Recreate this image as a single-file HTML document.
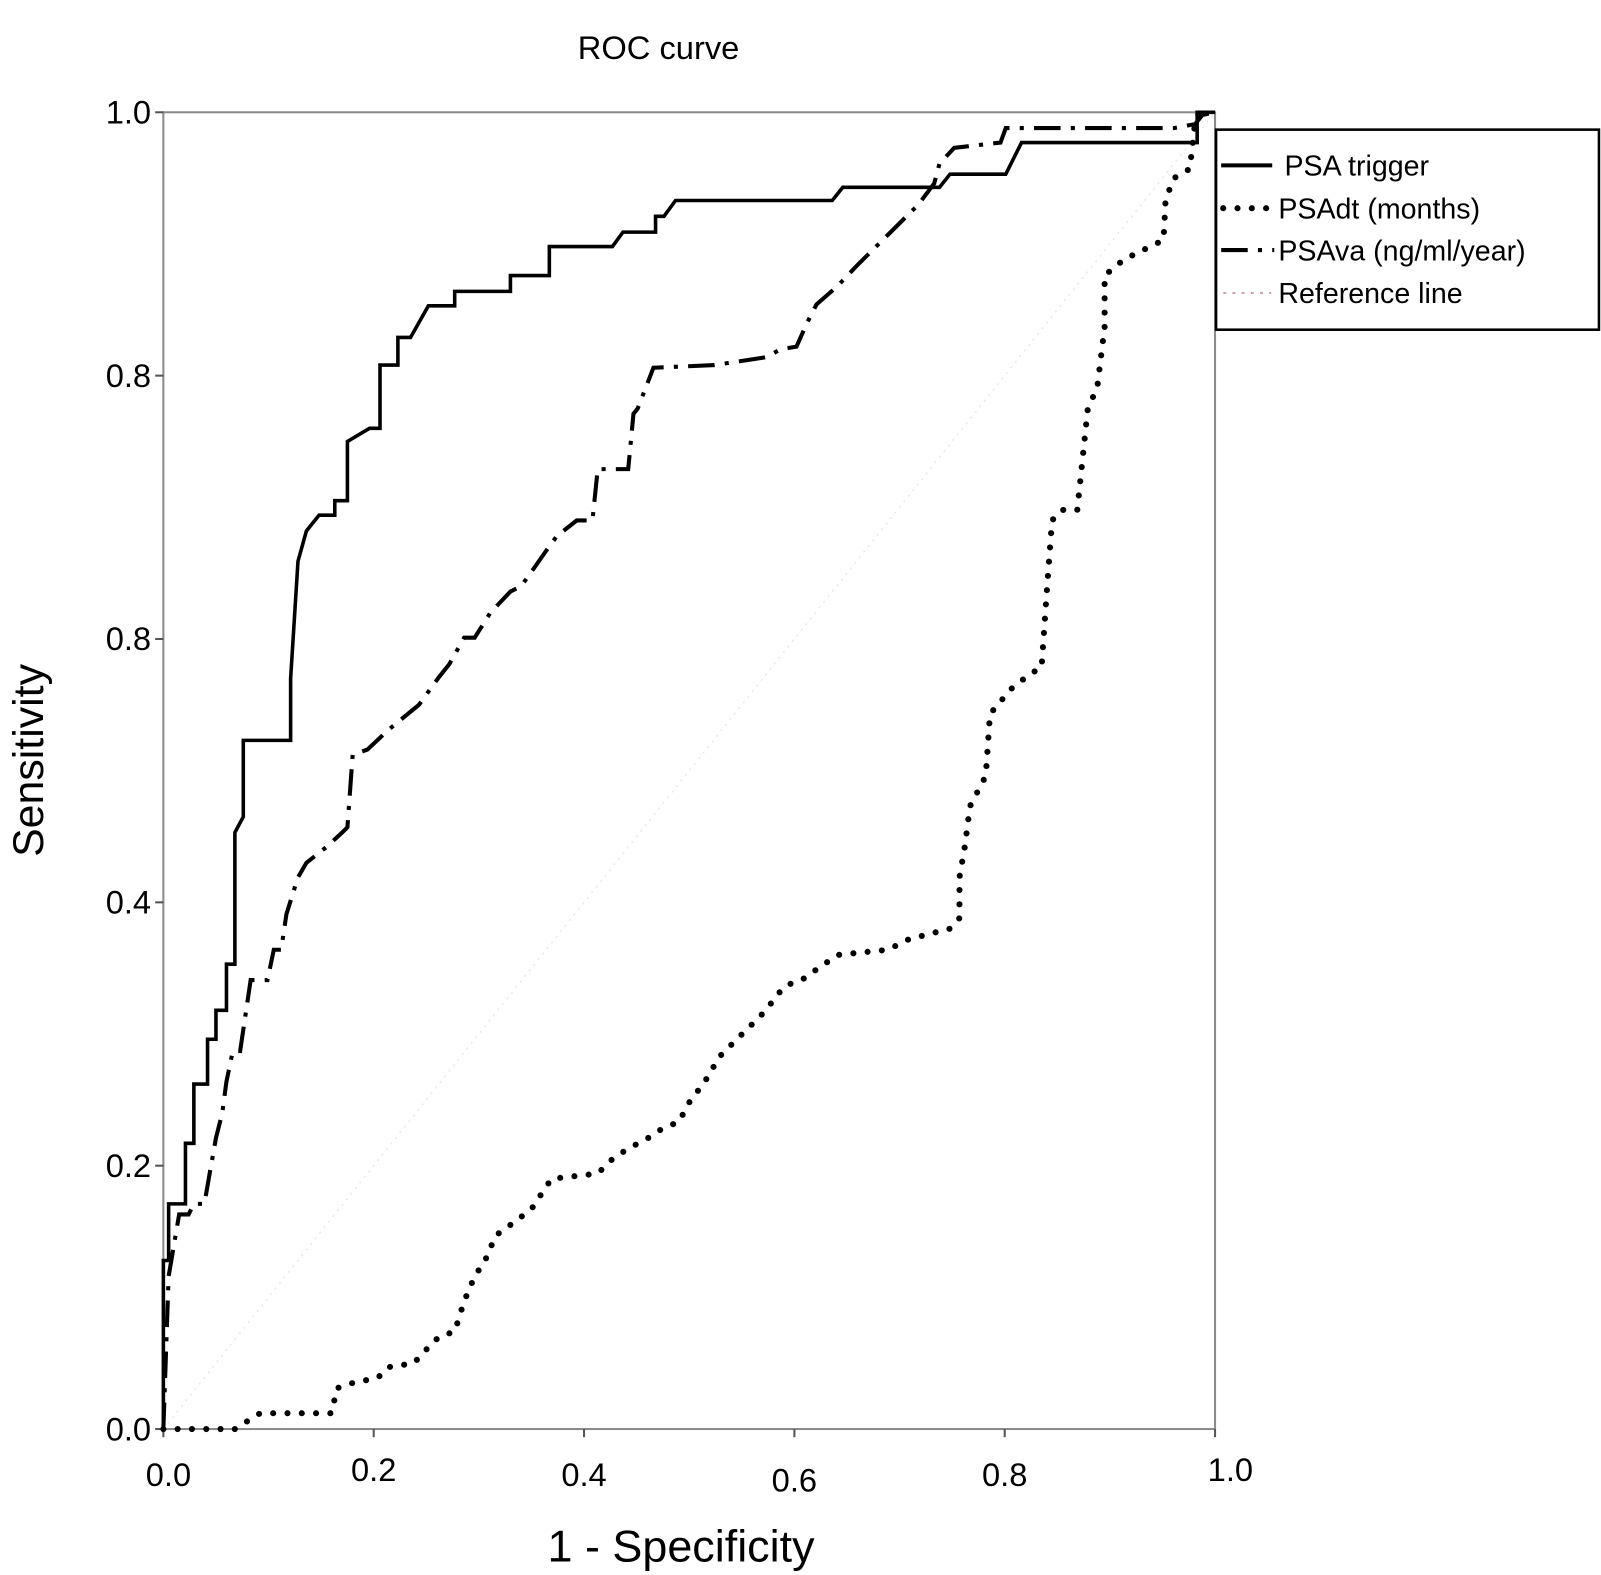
<!DOCTYPE html>
<html><head><meta charset="utf-8"><style>
body{margin:0;background:#fff;}
svg{display:block;font-family:"Liberation Sans",Arial,sans-serif;}
</style></head><body>
<svg id="chart" width="1601" height="1575" viewBox="0 0 1568 1543" preserveAspectRatio="none" xmlns="http://www.w3.org/2000/svg">
<rect width="1568" height="1543" fill="#fff"/>
<text x="645" y="58" font-size="32" text-anchor="middle">ROC curve</text>
<rect x="160" y="110" width="1030" height="1290" fill="none" stroke="#8a8a8a" stroke-width="2"/>
<g id="yticks"></g><g id="xticks"></g>
<g id="series"></g>
<text transform="translate(42,745) rotate(-90)" font-size="42" text-anchor="middle">Sensitivity</text>
<text x="667" y="1530" font-size="44" text-anchor="middle">1 - Specificity</text>
<g>
<rect x="1191" y="127" width="375" height="196" fill="#fff" stroke="#000" stroke-width="2.5"/>
<line x1="1196" y1="162" x2="1246" y2="162" stroke="#000" stroke-width="4"/>
<text x="1258" y="172" font-size="28">PSA trigger</text>
<line x1="1198" y1="204" x2="1245" y2="204" stroke="#000" stroke-width="6" stroke-linecap="round" stroke-dasharray="0 14"/>
<text x="1252" y="214" font-size="28">PSAdt (months)</text>
<line x1="1196" y1="245" x2="1248" y2="245" stroke="#000" stroke-width="4" stroke-dasharray="26 10 4 10"/>
<text x="1252" y="255" font-size="28">PSAva (ng/ml/year)</text>
<line x1="1198" y1="287" x2="1245" y2="287" stroke="#c98aa0" stroke-width="1.5" stroke-dasharray="3 6"/>
<text x="1252" y="297" font-size="28">Reference line</text>
</g>
</svg>
<script>
const yTickValues=[1.0,0.8,0.6,0.4,0.2,0.0];
const yTickLabels=["1.0","0.8","0.8","0.4","0.2","0.0"];
const xTickValues=[0,0.2,0.4,0.6,0.8,1.0];
const xTickLabels=["0.0","0.2","0.4","0.6","0.8","1.0"];
const xTickDy=[0,-5,0,5,0,-5];
const trigX=[0,0,0.005,0.005,0.021,0.021,0.029,0.029,0.042,0.042,0.050,0.050,0.060,0.060,0.068,0.068,0.076,0.076,0.121,0.121,0.128,0.136,0.148,0.163,0.163,0.175,0.175,0.196,0.206,0.206,0.223,0.223,0.235,0.252,0.277,0.277,0.330,0.330,0.367,0.367,0.427,0.437,0.468,0.468,0.476,0.487,0.636,0.646,0.738,0.748,0.801,0.816,0.983,0.983,1.0];
const trigY=[0,0.128,0.128,0.171,0.171,0.217,0.217,0.262,0.262,0.296,0.296,0.318,0.318,0.353,0.353,0.453,0.465,0.523,0.523,0.570,0.659,0.682,0.694,0.694,0.705,0.705,0.750,0.760,0.760,0.808,0.808,0.829,0.829,0.853,0.853,0.864,0.864,0.876,0.876,0.898,0.898,0.909,0.909,0.921,0.921,0.933,0.933,0.943,0.943,0.953,0.953,0.977,0.977,1.0,1.0];
const vaX=[0,0.005,0.015,0.024,0.029,0.039,0.044,0.050,0.056,0.060,0.066,0.073,0.078,0.083,0.099,0.105,0.112,0.117,0.128,0.136,0.155,0.170,0.175,0.180,0.194,0.214,0.243,0.262,0.272,0.286,0.296,0.311,0.330,0.340,0.350,0.364,0.374,0.393,0.408,0.413,0.442,0.447,0.451,0.466,0.524,0.573,0.587,0.602,0.612,0.621,0.641,0.660,0.689,0.718,0.733,0.738,0.752,0.796,0.801,0.961,0.981,0.988,1.0];
const vaY=[0,0.116,0.163,0.163,0.171,0.171,0.194,0.221,0.240,0.264,0.287,0.287,0.314,0.341,0.341,0.364,0.364,0.391,0.419,0.430,0.442,0.453,0.457,0.512,0.516,0.531,0.550,0.571,0.581,0.601,0.601,0.620,0.636,0.640,0.651,0.667,0.678,0.690,0.690,0.729,0.729,0.771,0.775,0.806,0.808,0.814,0.820,0.822,0.840,0.854,0.868,0.884,0.907,0.930,0.946,0.961,0.973,0.977,0.988,0.988,0.991,0.998,1.0];
const dtX=[0,0.068,0.092,0.160,0.165,0.180,0.204,0.214,0.238,0.252,0.262,0.277,0.286,0.296,0.306,0.316,0.330,0.350,0.359,0.369,0.413,0.427,0.442,0.461,0.476,0.490,0.500,0.515,0.529,0.544,0.558,0.573,0.583,0.592,0.607,0.621,0.641,0.689,0.709,0.748,0.757,0.757,0.762,0.767,0.782,0.786,0.806,0.825,0.835,0.840,0.845,0.854,0.869,0.879,0.888,0.895,0.895,0.913,0.951,0.953,0.961,0.976,0.981,0.985];
const dtY=[0,0,0.012,0.012,0.031,0.035,0.039,0.047,0.050,0.062,0.070,0.074,0.097,0.116,0.128,0.147,0.155,0.167,0.178,0.190,0.194,0.205,0.213,0.221,0.229,0.233,0.248,0.264,0.283,0.295,0.306,0.318,0.329,0.337,0.341,0.349,0.360,0.364,0.372,0.380,0.388,0.419,0.442,0.473,0.496,0.543,0.562,0.574,0.578,0.636,0.690,0.698,0.698,0.775,0.791,0.837,0.876,0.888,0.903,0.934,0.950,0.957,0.992,1.0];
const refX=[0,1];
const refY=[0,1];
const X0=160,X1=1190,Y0=1400,Y1=110;
function sx(v){return X0+v*(X1-X0);}
function sy(v){return Y0-v*(Y0-Y1);}
const NS="http://www.w3.org/2000/svg";
const yt=document.getElementById('yticks');
yTickValues.forEach((v,i)=>{
  const l=document.createElementNS(NS,'line');
  l.setAttribute('x1',152);l.setAttribute('x2',160);l.setAttribute('y1',sy(v));l.setAttribute('y2',sy(v));
  l.setAttribute('stroke','#555');l.setAttribute('stroke-width','2');
  
  
  yt.appendChild(l);
  const t=document.createElementNS(NS,'text');
  t.setAttribute('x',148);t.setAttribute('y',sy(v)+11);t.setAttribute('font-size','32');t.setAttribute('text-anchor','end');
  t.textContent=yTickLabels[i];
  
  
  yt.appendChild(t);
});
const xt=document.getElementById('xticks');
xTickValues.forEach((v,i)=>{
  const l=document.createElementNS(NS,'line');
  l.setAttribute('x1',sx(v));l.setAttribute('x2',sx(v));l.setAttribute('y1',1400);l.setAttribute('y2',1408);
  l.setAttribute('stroke','#555');l.setAttribute('stroke-width','2');
  
  
  xt.appendChild(l);
  const t=document.createElementNS(NS,'text');
  t.setAttribute('x',sx(v)+(i===0?5:i===5?15:0));t.setAttribute('y',1456+xTickDy[i]);t.setAttribute('font-size','32');t.setAttribute('text-anchor','middle');
  t.textContent=xTickLabels[i];
  
  
  xt.appendChild(t);
});
const sg=document.getElementById('series');
function draw(xs,ys,name,attrs){
  const p=document.createElementNS(NS,'polyline');
  p.setAttribute('points',xs.map((x,i)=>sx(x)+','+sy(ys[i])).join(' '));
  p.setAttribute('fill','none');
  for(const k in attrs)p.setAttribute(k,attrs[k]);
  
  
  sg.appendChild(p);
}
draw(refX,refY,'reference-line',{stroke:'#eee6ea','stroke-width':'1.5','stroke-dasharray':'2 5'});
draw(dtX,dtY,'psadt-curve',{stroke:'#000','stroke-width':'6','stroke-linecap':'round','stroke-dasharray':'0 14'});
draw(vaX,vaY,'psava-curve',{stroke:'#000','stroke-width':'4','stroke-dasharray':'26 10 4 10'});
draw(trigX,trigY,'psa-trigger-curve',{stroke:'#000','stroke-width':'3.5'});
</script>
</body></html>
